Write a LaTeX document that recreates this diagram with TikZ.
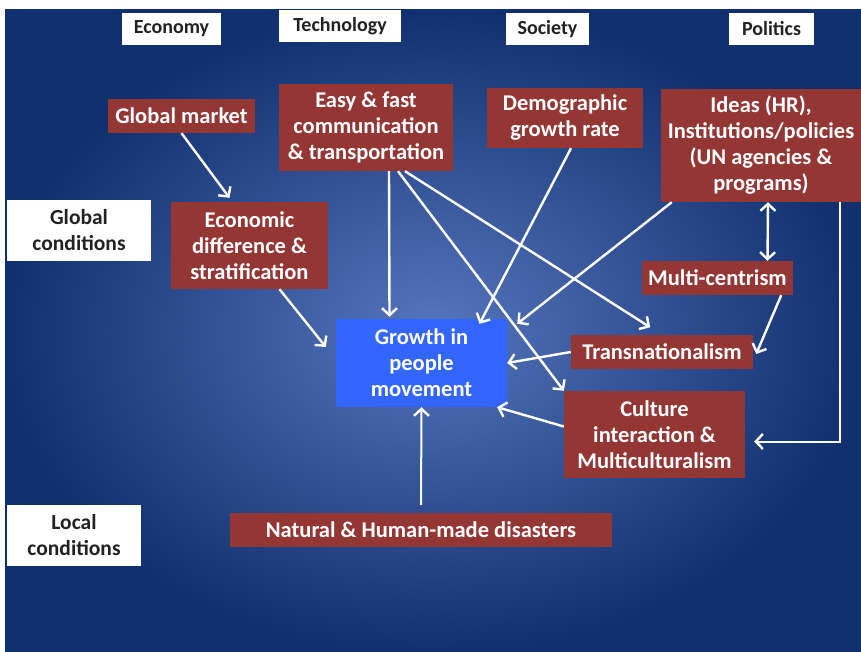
\documentclass[tikz,border=0pt]{standalone}
\usepackage{fontspec}
\setmainfont{Carlito}
\usetikzlibrary{arrows.meta}
\definecolor{boxred}{HTML}{943634}
\definecolor{boxblue}{HTML}{3366FF}
\definecolor{bgdark}{HTML}{11306F}
\definecolor{bglight}{HTML}{5676BD}
\definecolor{labeltext}{HTML}{222222}

\begin{document}
\begin{tikzpicture}[x=1pt,y=-1pt,
    factor/.style={fill=boxred, text=white, align=center, inner sep=0pt,
        font=\fontsize{22.5}{26}\selectfont\bfseries},
    heading/.style={fill=white, text=labeltext, align=center, inner sep=0pt,
        font=\fontsize{20}{24}\selectfont\bfseries},
    level/.style={fill=white, text=labeltext, align=center, inner sep=0pt,
        font=\fontsize{21.5}{26}\selectfont\bfseries},
    link/.style={draw=white, line width=2.4pt,
        -{Straight Barb[length=7pt,width=15pt,line width=2.4pt]}}]

    \useasboundingbox (0,0) rectangle (861,652);

    % Background
    \shade[inner color=bglight, outer color=bgdark] (5,10) rectangle (861,652);

    % Domains along the top
    \node[heading, minimum width=99, minimum height=32] (economy) at (171.5,29) {Economy};
    \node[heading, minimum width=122, minimum height=32] (technology) at (340,26) {Technology};
    \node[heading, minimum width=83, minimum height=32] (society) at (547.5,29) {Society};
    \node[heading, minimum width=85, minimum height=32] (politics) at (771.5,29) {Politics};

    % Levels on the left
    \node[level, minimum width=144, minimum height=61] (globalcond) at (79,230.5) {Global\\conditions};
    \node[level, minimum width=134, minimum height=61] (localcond) at (74,535.5) {Local\\conditions};

    % Factors
    \node[factor, minimum width=147, minimum height=34] (market) at (181.5,116) {Global market};
    \node[factor, minimum width=174, minimum height=87] (easy) at (366,127.5) {Easy \& fast\\communication\\\& transportation};
    \node[factor, minimum width=156, minimum height=60] (demog) at (565,118) {Demographic\\growth rate};
    \node[factor, minimum width=200, minimum height=113] (ideas) at (761,145.5) {Ideas (HR),\\Institutions/policies\\(UN agencies \&\\programs)};
    \node[factor, minimum width=157, minimum height=87] (econdiff) at (249.5,245.5) {Economic\\difference \&\\stratification};
    \node[factor, minimum width=151, minimum height=34] (multi) at (717.5,278) {Multi-centrism};
    \node[factor, minimum width=182, minimum height=34] (trans) at (662,352) {Transnationalism};
    \node[factor, minimum width=181, minimum height=87] (culture) at (654.5,434.5) {Culture\\interaction \&\\Multiculturalism};
    \node[factor, minimum width=382, minimum height=34] (disasters) at (421,530) {Natural \& Human-made disasters};

    % Outcome
    \node[factor, fill=boxblue, minimum width=171, minimum height=88] (growth) at (421.5,363) {Growth in\\people\\movement};

    % Influences
    \draw[link] (market.south) -- ([xshift=-20pt,yshift=4pt]econdiff.north);
    \draw[link] ([xshift=30pt]econdiff.south) -- ([xshift=-10pt,yshift=16pt]growth.west);
    \draw[link] ([xshift=23pt]easy.south) -- ([xshift=-32pt,yshift=2pt]growth.north);
    \draw[link] ([xshift=32pt]easy.south) -- (culture.north west);
    \draw[link, shorten >=14pt] ([xshift=39pt]easy.south) -- (trans.north);
    \draw[link] ([xshift=6pt]demog.south) -- ([xshift=58pt,yshift=-5pt]growth.north);
    \draw[link] ([xshift=11pt]ideas.south west) -- ([xshift=10pt,yshift=-5pt]growth.north east);
    \draw[link, {Straight Barb[length=7pt,width=15pt,line width=2.4pt]}-{Straight Barb[length=7pt,width=15pt,line width=2.4pt]}]
        ([xshift=7pt]ideas.south) -- ([xshift=50pt]multi.north);
    \draw[link] ([xshift=-12pt]multi.south east) -- ([xshift=3pt,yshift=-2pt]trans.east);
    \draw[link] (trans.west) -- (growth.east);
    \draw[link] ([yshift=8pt]culture.west) -- ([xshift=-10pt]growth.south east);
    \draw[link, line width=2pt] ([xshift=-21pt]ideas.south east) |- ([xshift=9pt,yshift=-7pt]culture.east);
    \draw[link, line width=2pt] ([yshift=8pt]disasters.north) -- (growth.south);

\end{tikzpicture}
\end{document}
